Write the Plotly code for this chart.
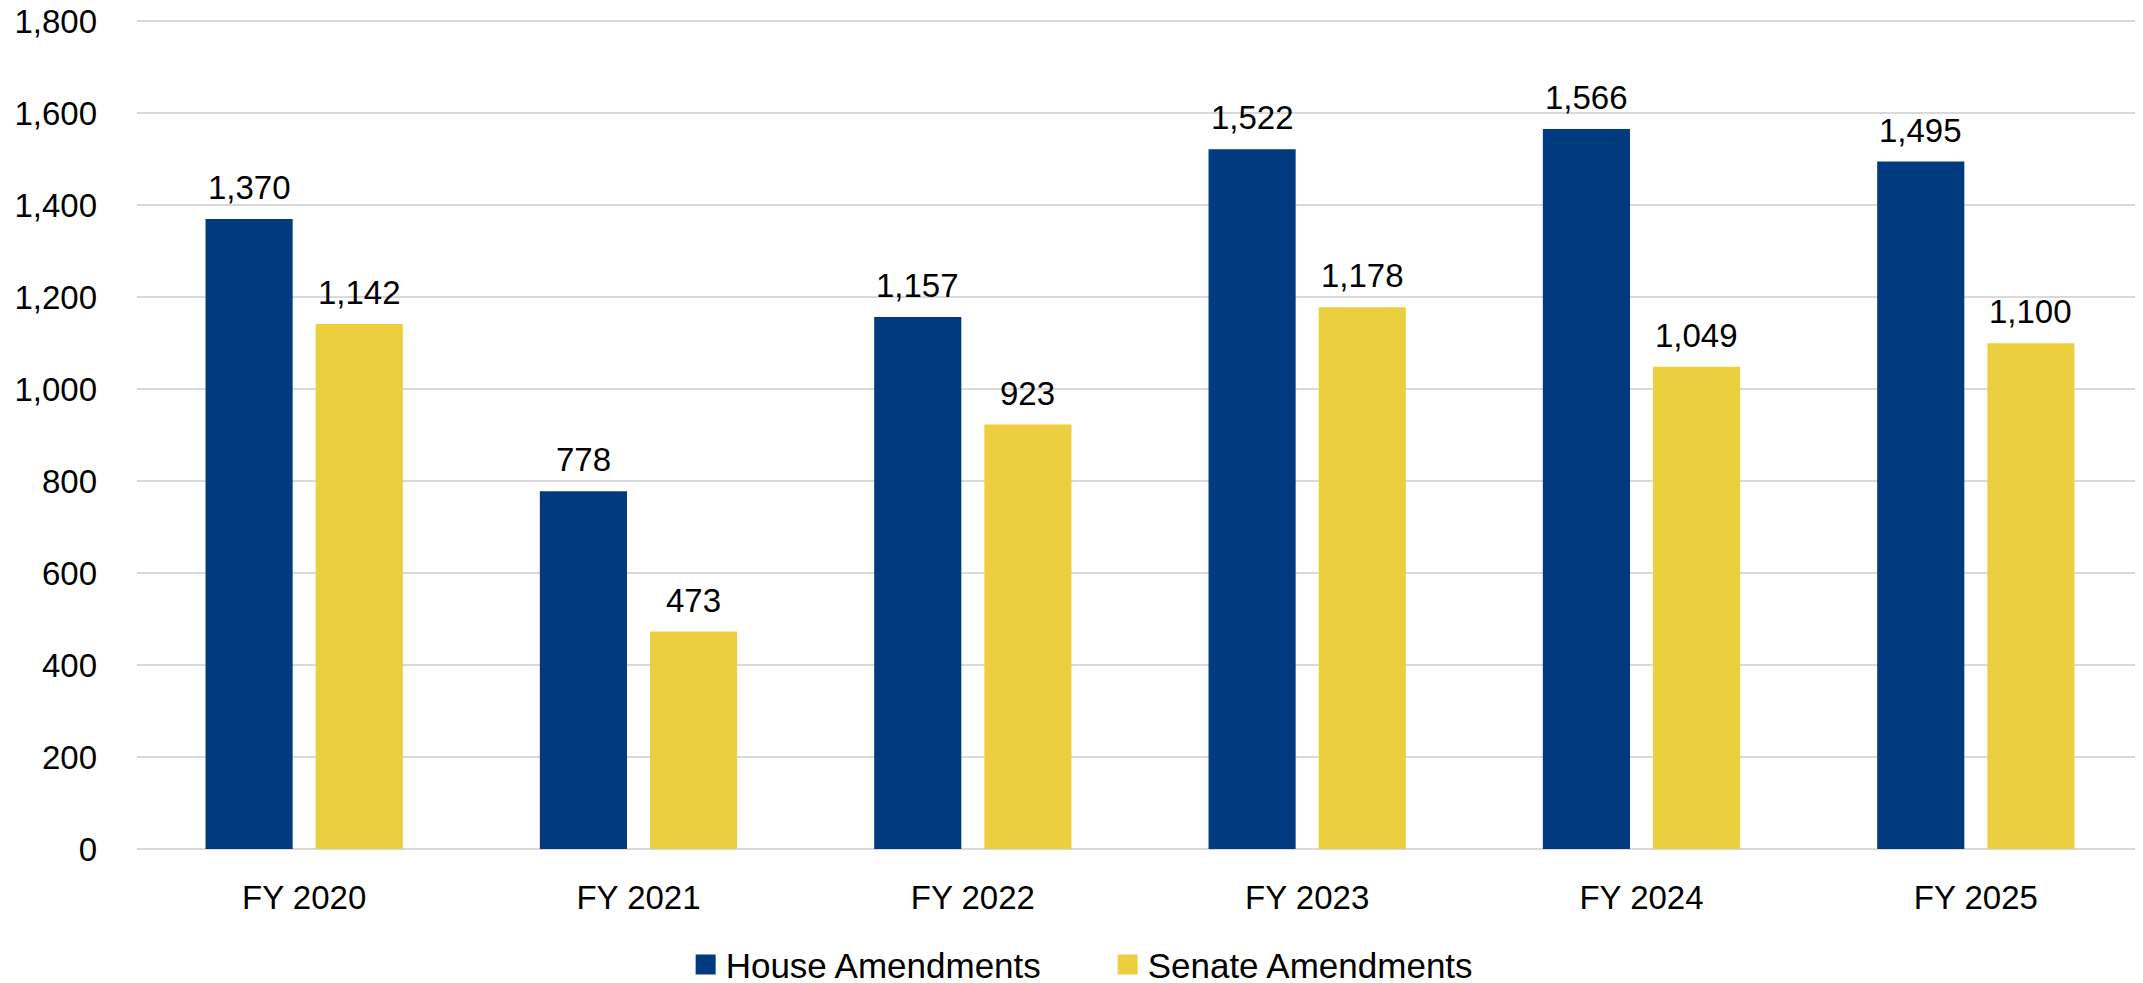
import plotly.graph_objects as go

categories = ["FY 2020", "FY 2021", "FY 2022", "FY 2023", "FY 2024", "FY 2025"]
house = [1370, 778, 1157, 1522, 1566, 1495]
senate = [1142, 473, 923, 1178, 1049, 1100]
y_ticks = [0, 200, 400, 600, 800, 1000, 1200, 1400, 1600, 1800]
series_names = ["House Amendments", "Senate Amendments"]

HOUSE_COLOR = "#023A80"
SENATE_COLOR = "#ECCF3E"
FONT = "Liberation Sans, Arial, sans-serif"

fig = go.Figure()
fig.add_trace(go.Bar(x=categories, y=house, name=series_names[0], showlegend=False,
                     marker=dict(color=HOUSE_COLOR, line=dict(width=0))))
fig.add_trace(go.Bar(x=categories, y=senate, name=series_names[1], showlegend=False,
                     marker=dict(color=SENATE_COLOR, line=dict(width=0))))
# legend-only entries with larger square swatches
for nm, col in zip(series_names, (HOUSE_COLOR, SENATE_COLOR)):
    fig.add_trace(go.Scatter(x=[categories[0]], y=[None], mode="markers", name=nm,
                             marker=dict(symbol="square", size=16, color=col,
                                         line=dict(color=col, width=4)),
                             hoverinfo="skip"))

annotations = []
for series, shift in ((house, -55), (senate, 55)):
    for c, v in zip(categories, series):
        annotations.append(dict(x=c, y=v, xref="x", yref="y", text=f"{v:,}",
                                showarrow=False, xshift=shift, yshift=11,
                                yanchor="bottom",
                                font=dict(size=33, color="#000000", family=FONT)))

fig.update_layout(
    width=2143, height=983,
    margin=dict(l=129, r=8, t=12, b=142, autoexpand=False),
    paper_bgcolor="white", plot_bgcolor="white",
    barmode="group", bargap=0.341, bargroupgap=0.209,
    font=dict(family=FONT, size=32, color="#000000"),
    showlegend=True,
    legend=dict(orientation="h", x=0.2735, xanchor="left", y=-0.104, yanchor="top",
                font=dict(size=35, color="#000000"), itemwidth=30,
                entrywidth=377, entrywidthmode="pixels",
                traceorder="normal", bgcolor="rgba(0,0,0,0)"),
    annotations=annotations,
)
fig.update_yaxes(range=[0, 1803], tickvals=y_ticks, tickformat=",", automargin=False,
                 showgrid=True, gridcolor="#D9D9D9", gridwidth=1.5,
                 zeroline=True, zerolinecolor="#D9D9D9", zerolinewidth=2,
                 showline=False, ticks="", ticklabelstandoff=39,
                 ticklabeloverflow="allow",
                 tickfont=dict(size=33, color="#000000"))
fig.update_xaxes(showgrid=False, showline=False, ticks="", ticklabelstandoff=26,
                 automargin=False,
                 tickfont=dict(size=33, color="#000000"))

fig.write_html("out.html")
